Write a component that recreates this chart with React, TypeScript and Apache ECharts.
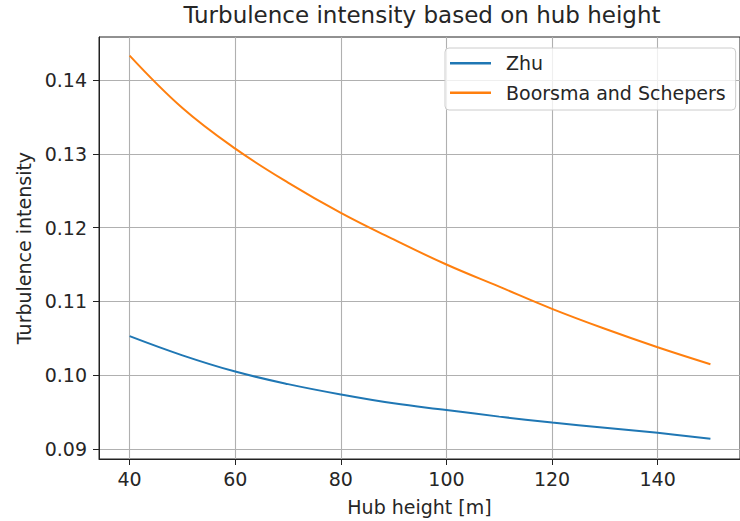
import React, { useEffect, useRef } from "react";
import * as echarts from "echarts";

const hubHeights = [40, 50, 60, 70, 80, 90, 100, 110, 120, 130, 140, 150];
const zhuValues = [0.1053, 0.1027, 0.1005, 0.0988, 0.0974, 0.0962, 0.0953, 0.0944, 0.0936, 0.0929, 0.0922, 0.0914];
const boorsmaValues = [0.1433, 0.1362, 0.1307, 0.1261, 0.122, 0.1184, 0.115, 0.112, 0.109, 0.1063, 0.1038, 0.1015];
const xTicks = [40, 60, 80, 100, 120, 140];
const yTicks = [0.09, 0.1, 0.11, 0.12, 0.13, 0.14];
const seriesNames = ["Zhu", "Boorsma and Schepers"];
const seriesColors = ["#1f77b4", "#ff7f0e"];
const titleText = "Turbulence intensity based on hub height";
const xName = "Hub height [m]";
const yName = "Turbulence intensity";

const FONT = "DejaVu Sans";

export default function App() {
  const ref = useRef<HTMLDivElement>(null);
  useEffect(() => {
    if (!ref.current) return;
    const chart = echarts.init(ref.current, null, { renderer: "svg" });
    const gridColor = "#b0b0b0";
    chart.setOption({
      animation: false,
      backgroundColor: "#ffffff",
      title: {
        text: titleText,
        left: 422,
        top: 3,
        textAlign: "center",
        padding: 0,
        textStyle: { fontFamily: FONT, fontSize: 23, fontWeight: "normal", color: "#262626" },
      },
      grid: {
        left: 99,
        right: -5,
        top: 37,
        bottom: 61.7,
        show: true,
        borderColor: "#222",
        borderWidth: 1,
        backgroundColor: "transparent",
      },
      legend: {
        orient: "vertical",
        left: 445,
        top: 48,
        padding: [5.3, 10, 7.3, 5],
        icon: "rect",
        itemWidth: 41,
        itemHeight: 2.5,
        itemGap: 9.4,
        backgroundColor: "rgba(255,255,255,0.8)",
        borderColor: "#cccccc",
        borderWidth: 1,
        borderRadius: 4,
        data: seriesNames,
        textStyle: {
          fontFamily: FONT,
          fontSize: 19,
          lineHeight: 20,
          color: "#262626",
          padding: [0, 0, 0, 10],
        },
      },
      xAxis: {
        type: "value",
        min: 34.2,
        max: 155.6,
        name: xName,
        nameLocation: "middle",
        nameGap: 38,
        nameTextStyle: { fontFamily: FONT, fontSize: 19, color: "#262626" },
        axisLine: { show: true, onZero: false, lineStyle: { color: "#222", width: 1 } },
        axisTick: { show: true, length: 6, customValues: xTicks, lineStyle: { color: "#222", width: 1 } },
        axisLabel: {
          customValues: xTicks,
          margin: 10,
          fontFamily: FONT,
          fontSize: 19,
          color: "#262626",
          formatter: (v: number) => String(v),
        },
        splitLine: { show: true, lineStyle: { color: gridColor, width: 1.1 } },
      },
      yAxis: {
        type: "value",
        min: 0.08866,
        max: 0.14582,
        name: yName,
        nameLocation: "middle",
        nameGap: 66,
        nameTextStyle: { fontFamily: FONT, fontSize: 19, color: "#262626" },
        axisLine: { show: true, onZero: false, lineStyle: { color: "#222", width: 1 } },
        axisTick: { show: true, length: 6, customValues: yTicks, lineStyle: { color: "#222", width: 1 } },
        axisLabel: {
          customValues: yTicks,
          margin: 12,
          fontFamily: FONT,
          fontSize: 19,
          color: "#262626",
          formatter: (v: number) => v.toFixed(2),
        },
        splitLine: { show: true, lineStyle: { color: gridColor, width: 1.1 } },
      },
      series: [
        {
          name: seriesNames[0],
          type: "line",
          data: hubHeights.map((h, i) => [h, zhuValues[i]]),
          symbol: "none",
          smooth: 0.4,
          lineStyle: { color: seriesColors[0], width: 2 },
          itemStyle: { color: seriesColors[0] },
          z: 3,
        },
        {
          name: seriesNames[1],
          type: "line",
          data: hubHeights.map((h, i) => [h, boorsmaValues[i]]),
          symbol: "none",
          smooth: 0.4,
          lineStyle: { color: seriesColors[1], width: 2 },
          itemStyle: { color: seriesColors[1] },
          z: 3,
        },
      ],
    });
    return () => chart.dispose();
  }, []);
  return <div ref={ref} style={{ width: 740, height: 521, position: "absolute", left: 0, top: 0 }} />;
}
